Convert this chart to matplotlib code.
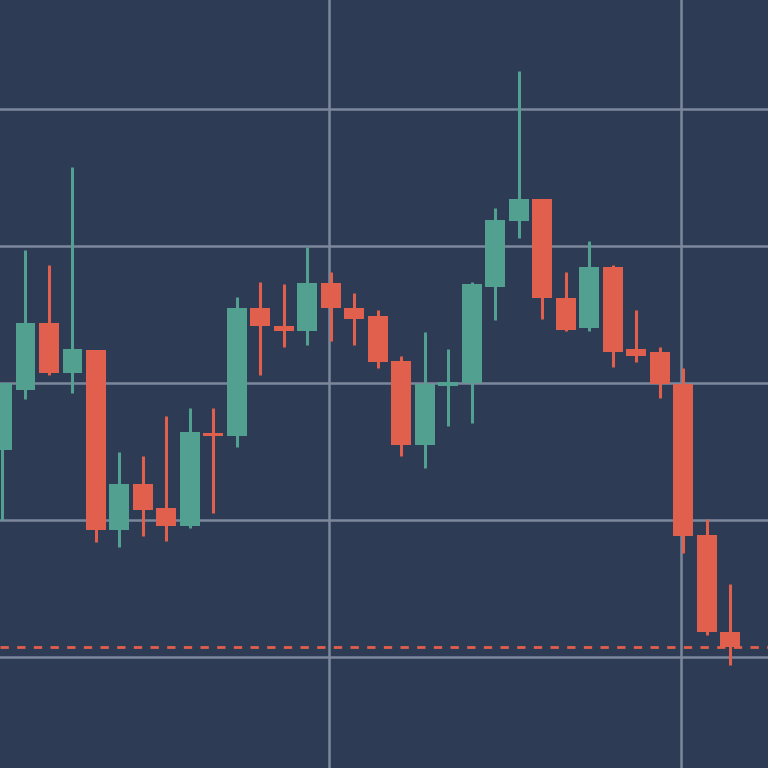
import matplotlib.pyplot as plt

# candle data
opens  = [115.1, 119.5, 124.4, 120.7, 122.4, 109.3, 112.6, 110.9, 109.6, 116.2, 116.1, 125.5, 124.2, 123.8, 127.3,
          125.5, 124.9, 121.6, 115.5, 119.8, 120.0, 127.0, 131.8, 133.4, 126.2, 124.0, 128.5, 122.5, 122.3, 119.9, 108.9, 101.8]
closes = [120.0, 124.4, 120.7, 122.5, 109.3, 112.6, 110.7, 109.6, 116.4, 116.1, 125.5, 124.2, 123.8, 127.3, 125.5,
          124.7, 121.5, 115.5, 119.9, 120.0, 127.2, 131.9, 133.4, 126.2, 123.9, 128.5, 122.3, 122.0, 119.9, 108.8, 101.8, 100.7]
highs  = [120.0, 129.7, 128.6, 135.8, 122.4, 115.0, 114.7, 117.6, 118.2, 118.2, 126.3, 127.4, 127.2, 129.9, 128.1,
          126.6, 125.3, 122.0, 123.7, 122.5, 127.4, 132.8, 142.8, 133.4, 128.1, 130.4, 128.6, 125.3, 122.6, 121.1, 110.1, 105.3]
lows   = [110.0, 118.8, 120.6, 119.3, 108.4, 108.0, 108.8, 108.5, 109.4, 110.5, 115.3, 120.6, 122.6, 122.8, 123.1,
          122.8, 121.1, 114.7, 113.8, 116.9, 117.1, 124.6, 130.6, 124.7, 123.8, 123.8, 121.2, 121.5, 118.9, 107.6, 101.6, 99.4]
last_price = 100.7

bg = '#2d3b55'
up_color = '#52a08f'
down_color = '#e0604d'

fig = plt.figure(figsize=(7.68, 7.68), dpi=100)
ax = fig.add_axes([0, 0, 1, 1])
ax.set_facecolor(bg)
fig.patch.set_facecolor(bg)

for i, (o, c, h, l) in enumerate(zip(opens, closes, highs, lows)):
    col = up_color if c >= o else down_color
    ax.vlines(i, l, h, color=col, linewidth=2.2, zorder=3)
    bottom = min(o, c)
    height = max(abs(c - o), 0.25)
    ax.bar(i, height, bottom=bottom, width=0.85, color=col, zorder=3)

ax.axhline(last_price, color=down_color, linestyle=(0, (3, 3)), linewidth=2, zorder=4)

ax.set_xlim(-0.085, 32.6)
ax.set_ylim(91.9, 147.96)
ax.set_yticks([100, 110, 120, 130, 140])
ax.set_xticks([13.9, 28.9])
ax.grid(True, color='#7c879b', linewidth=1.8, zorder=1)
ax.tick_params(length=0, labelbottom=False, labelleft=False)
for s in ax.spines.values():
    s.set_visible(False)

fig.savefig('out.png', dpi=100, facecolor=bg)
